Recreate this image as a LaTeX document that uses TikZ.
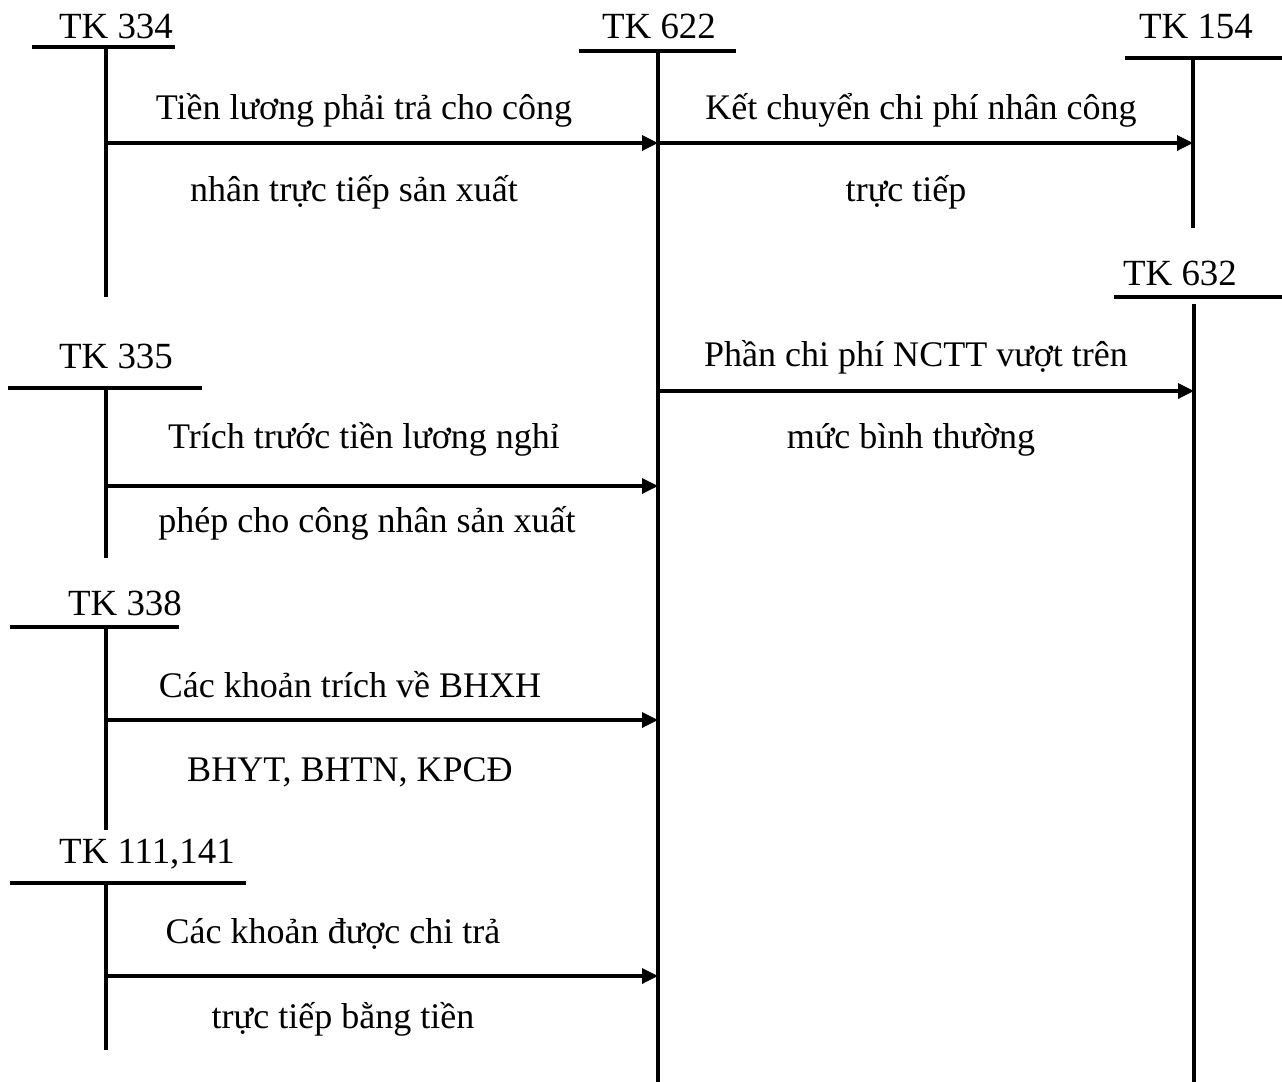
\documentclass[tikz,border=0pt]{standalone}
\usepackage{fontspec}
\setmainfont{Liberation Serif}
\usepackage{tikz}
\usetikzlibrary{arrows.meta}

\tikzset{
  acct/.style={anchor=base, inner sep=0pt, font=\fontsize{21}{25}\selectfont},
  lbl/.style={anchor=base, inner sep=0pt, font=\fontsize{20.5}{25}\selectfont},
  tbar/.style={line width=1.9pt},
  flow/.style={line width=1.9pt, -{Triangle[length=0.32cm,width=0.3cm]}}
}

\begin{document}
\begin{tikzpicture}[x=0.02cm, y=-0.02cm]
\useasboundingbox (0,0) rectangle (1282,1082);

% T accounts
\node[acct] (n334) at (116,38) {TK 334};
\draw[tbar] (32,47) -- (175,47);
\coordinate (t334) at (106,47);
\coordinate (b334) at (106,297);
\draw[tbar] (t334) -- (b334);

\node[acct] (n622) at (659,38) {TK 622};
\draw[tbar] (579,51) -- (736,51);
\coordinate (t622) at (658,51);
\coordinate (b622) at (658,1082);
\draw[tbar] (t622) -- (b622);

\node[acct] (n154) at (1196,38) {TK 154};
\draw[tbar] (1125,58) -- (1282,58);
\coordinate (t154) at (1193,58);
\coordinate (b154) at (1193,228);
\draw[tbar] (t154) -- (b154);

\node[acct] (n632) at (1180,285) {TK 632};
\draw[tbar] (1114,297) -- (1282,297);
\coordinate (t632) at (1194,304);
\coordinate (b632) at (1194,1082);
\draw[tbar] (t632) -- (b632);

\node[acct] (n335) at (116,368) {TK 335};
\draw[tbar] (8,388) -- (202,388);
\coordinate (t335) at (106,388);
\coordinate (b335) at (106,558);
\draw[tbar] (t335) -- (b335);

\node[acct] (n338) at (125,615) {TK 338};
\draw[tbar] (10,627) -- (179,627);
\coordinate (t338) at (106,627);
\coordinate (b338) at (106,830);
\draw[tbar] (t338) -- (b338);

\node[acct] (n111) at (147,863) {TK 111,141};
\draw[tbar] (10,883) -- (246,883);
\coordinate (t111) at (106,883);
\coordinate (b111) at (106,1050);
\draw[tbar] (t111) -- (b111);

% Entries into TK 622
\coordinate (s1) at (106,143);
\coordinate (e1) at (658,143);
\draw[flow] (s1) -- (e1);
\node[lbl] (l1a) at (364,119) {Tiền lương phải trả cho công};
\node[lbl] (l1b) at (354,201) {nhân trực tiếp sản xuất};

\coordinate (s2) at (106,486);
\coordinate (e2) at (658,486);
\draw[flow] (s2) -- (e2);
\node[lbl] (l2a) at (364,448) {Trích trước tiền lương nghỉ};
\node[lbl] (l2b) at (367,532) {phép cho công nhân sản xuất};

\coordinate (s3) at (106,720);
\coordinate (e3) at (658,720);
\draw[flow] (s3) -- (e3);
\node[lbl] (l3a) at (350,697) {Các khoản trích về BHXH};
\node[lbl] (l3b) at (350,781) {BHYT, BHTN, KPCĐ};

\coordinate (s4) at (106,976);
\coordinate (e4) at (658,976);
\draw[flow] (s4) -- (e4);
\node[lbl] (l4a) at (333,943) {Các khoản được chi trả};
\node[lbl] (l4b) at (343,1028) {trực tiếp bằng tiền};

% Out of TK 622
\coordinate (s5) at (658,143);
\coordinate (e5) at (1193,143);
\draw[flow] (s5) -- (e5);
\node[lbl] (l5a) at (921,119) {Kết chuyển chi phí nhân công};
\node[lbl] (l5b) at (906,201) {trực tiếp};

\coordinate (s6) at (658,391);
\coordinate (e6) at (1194,391);
\draw[flow] (s6) -- (e6);
\node[lbl] (l6a) at (916,366) {Phần chi phí NCTT vượt trên};
\node[lbl] (l6b) at (911,448) {mức bình thường};
\end{tikzpicture}
\end{document}
